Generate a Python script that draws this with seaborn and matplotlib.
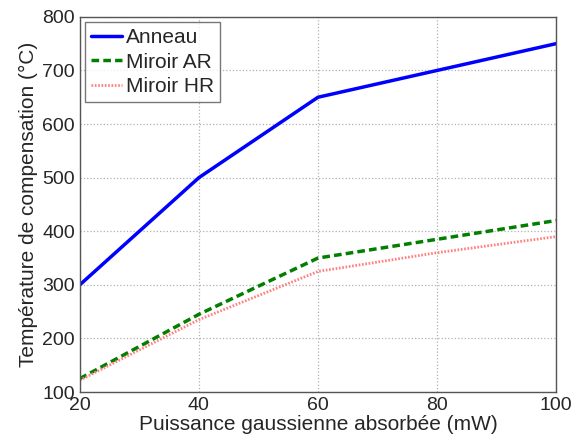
import matplotlib
matplotlib.use("Agg")
import matplotlib.pyplot as plt
import seaborn as sns
import pandas as pd

puissance = [20, 40, 60, 80, 100]
anneau = [300, 500, 650, 700, 750]
miroir_ar = [125, 245, 350, 385, 420]
miroir_hr = [122, 235, 325, 360, 390]

sns.set_style("white")
plt.rcParams["font.family"] = ["Liberation Sans", "DejaVu Sans"]

fig = plt.figure(figsize=(5.74, 4.43), dpi=100)
ax = fig.add_axes([0.139, 0.115, 0.83, 0.847])

df = pd.DataFrame({"x": puissance, "Anneau": anneau,
                   "Miroir AR": miroir_ar, "Miroir HR": miroir_hr})

sns.lineplot(data=df, x="x", y="Anneau", ax=ax, color="#0000ff", lw=2.5,
             label="Anneau")
sns.lineplot(data=df, x="x", y="Miroir AR", ax=ax, color="#007f00", lw=2.5,
             ls=(0, (2.2, 1.2)), label="Miroir AR")
sns.lineplot(data=df, x="x", y="Miroir HR", ax=ax, color="#ff8080", lw=2.0,
             ls=(0, (0.6, 0.6)), label="Miroir HR")

ax.set_xlim(20, 100)
ax.set_ylim(100, 800)
ax.set_xticks([20, 40, 60, 80, 100])
ax.set_yticks(range(100, 801, 100))
ax.grid(True, color="#b0b0b0", ls=":", lw=0.9)
ax.tick_params(direction="in", labelsize=14, length=4, color="#555555")
for s in ax.spines.values():
    s.set_color("#555555")
    s.set_linewidth(1.0)

ax.set_xlabel("Puissance gaussienne absorbée (mW)", fontsize=15, labelpad=1)
ax.set_ylabel("Température de compensation (°C)", fontsize=15, labelpad=3)

leg = ax.legend(loc="upper left", fontsize=15, frameon=True, fancybox=False,
                borderaxespad=0.25, handlelength=1.5, handletextpad=0.2,
                labelspacing=0.27, borderpad=0.28)
leg.get_frame().set_edgecolor("#555555")
leg.get_frame().set_linewidth(1.0)

fig.savefig("out.png", dpi=100)
